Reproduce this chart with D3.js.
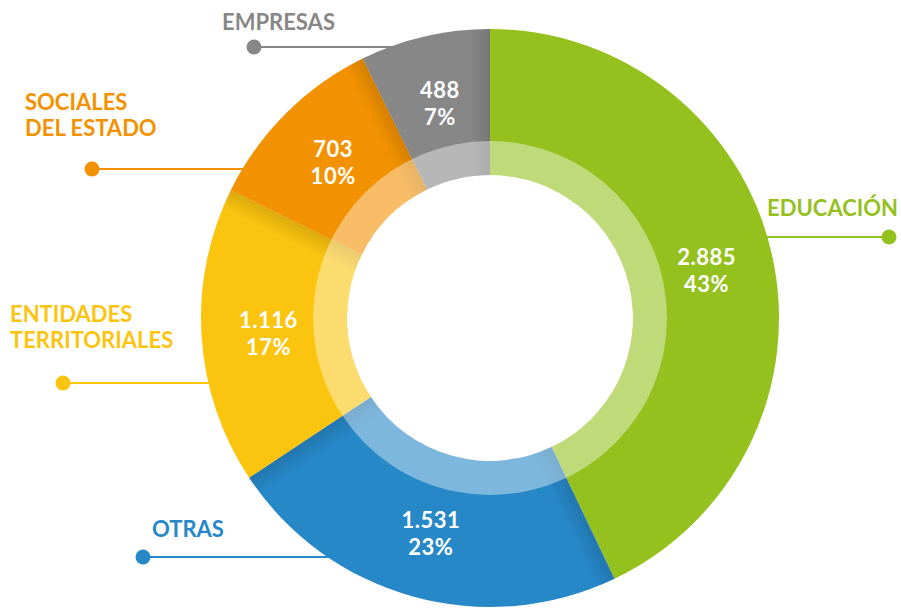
<!DOCTYPE html>
<html lang="es">
<head>
<meta charset="utf-8">
<title>Distribución por sector</title>
<script src="https://d3js.org/d3.v7.min.js"></script>
<style>
  body { margin: 0; background: #fff; }
  text { font-family: Lato, "Open Sans", sans-serif; font-weight: bold; }
</style>
</head>
<body>
<script>
// datos
var categories = ["EDUCACIÓN", "OTRAS", "ENTIDADES TERRITORIALES", "SOCIALES DEL ESTADO", "EMPRESAS"];
var labelLines = [["EDUCACIÓN"], ["OTRAS"], ["ENTIDADES", "TERRITORIALES"], ["SOCIALES", "DEL ESTADO"], ["EMPRESAS"]];
var values = [2885, 1531, 1116, 703, 488];
var valueLabels = ["2.885", "1.531", "1.116", "703", "488"];
var pctLabels = ["43%", "23%", "17%", "10%", "7%"];

var colors = ["#95c11f", "#2788c8", "#fbc40f", "#f39200", "#878787"];

// posicion de las etiquetas de leyenda (punto + linea + texto)
var legendLayout = [
  { dotX: 889, lineY: 237, textX: 898, textY: 216, anchor: "end" },
  { dotX: 143, lineY: 557, textX: 152, textY: 537, anchor: "start" },
  { dotX: 63,  lineY: 383, textX: 10,  textY: 322, anchor: "start" },
  { dotX: 92,  lineY: 169, textX: 25,  textY: 110, anchor: "start" },
  { dotX: 254, lineY: 47,  textX: 222, textY: 30,  anchor: "start" }
];

var width = 901, height = 608;
var cx = 490, cy = 318;
var rOuter = 289, rRing = 177, rInner = 143;

var svg = d3.select("body").append("svg")
    .attr("width", width)
    .attr("height", height);

var defs = svg.append("defs");

var pie = d3.pie().sort(null).value(function(d) { return d; });
var arcs = pie(values);

var arc = d3.arc().innerRadius(rInner).outerRadius(rOuter);

// lineas de la leyenda (detras del anillo)
var legend = svg.append("g");
legendLayout.forEach(function(l, i) {
  var dy = l.lineY - cy;
  var half = Math.sqrt(rOuter * rOuter - dy * dy);
  var edgeX = l.dotX > cx ? cx + half - 2 : cx - half + 2;
  legend.append("line")
      .attr("x1", l.dotX).attr("x2", edgeX)
      .attr("y1", l.lineY).attr("y2", l.lineY)
      .attr("stroke", colors[i])
      .attr("stroke-width", 2);
  legend.append("circle")
      .attr("cx", l.dotX).attr("cy", l.lineY)
      .attr("r", 7.5)
      .attr("fill", colors[i]);
  var t = legend.append("text")
      .attr("x", l.textX).attr("y", l.textY)
      .attr("text-anchor", l.anchor)
      .attr("fill", colors[i])
      .attr("font-size", "22px");
  labelLines[i].forEach(function(s, k) {
    t.append("tspan").attr("x", l.textX).attr("dy", k === 0 ? 0 : 26).text(s);
  });
});

var g = svg.append("g").attr("transform", "translate(" + cx + "," + cy + ")");

g.selectAll("path.slice")
  .data(arcs)
  .enter().append("path")
    .attr("class", "slice")
    .attr("d", arc)
    .attr("fill", function(d, i) { return colors[i]; });

// sombras suaves en los bordes de algunos sectores
// [indice del sector, extremo]
var shadows = [[4, "end"], [3, "end"], [2, "end"], [1, "end"], [1, "start"]];
var rMid = (rRing + rOuter) / 2;
shadows.forEach(function(s, k) {
  var d = arcs[s[0]];
  var a = s[1] === "end" ? d.endAngle : d.startAngle;
  var ux = Math.sin(a), uy = -Math.cos(a);
  var dir = s[1] === "end" ? -1 : 1;
  var nx = dir * Math.cos(a), ny = dir * Math.sin(a);
  var p0x = ux * rMid, p0y = uy * rMid;
  var id = "sh" + k;
  var grad = defs.append("linearGradient")
      .attr("id", id)
      .attr("gradientUnits", "userSpaceOnUse")
      .attr("x1", p0x).attr("y1", p0y)
      .attr("x2", p0x + nx * 20).attr("y2", p0y + ny * 20);
  grad.append("stop").attr("offset", 0).attr("stop-color", "#000").attr("stop-opacity", 0.13);
  grad.append("stop").attr("offset", 1).attr("stop-color", "#000").attr("stop-opacity", 0);
  g.append("path")
      .attr("d", arc(d))
      .attr("fill", "url(#" + id + ")");
});

// anillo interior aclarado
g.append("path")
    .attr("d", d3.arc().innerRadius(rInner).outerRadius(rRing).startAngle(0).endAngle(2 * Math.PI)())
    .attr("fill", "#fff")
    .attr("fill-opacity", 0.4);

// etiquetas de valor
var labelArc = d3.arc().innerRadius(222).outerRadius(222);
var vl = g.selectAll("text.val")
  .data(arcs)
  .enter().append("text")
    .attr("class", "val")
    .attr("text-anchor", "middle")
    .attr("fill", "#fff")
    .attr("font-size", "22px")
    .attr("letter-spacing", "0.5px")
    .attr("transform", function(d) { return "translate(" + labelArc.centroid(d) + ")"; });
vl.append("tspan").attr("x", 0).attr("y", -4).text(function(d, i) { return valueLabels[i]; });
vl.append("tspan").attr("x", 0).attr("y", 23).text(function(d, i) { return pctLabels[i]; });
</script>
</body>
</html>
